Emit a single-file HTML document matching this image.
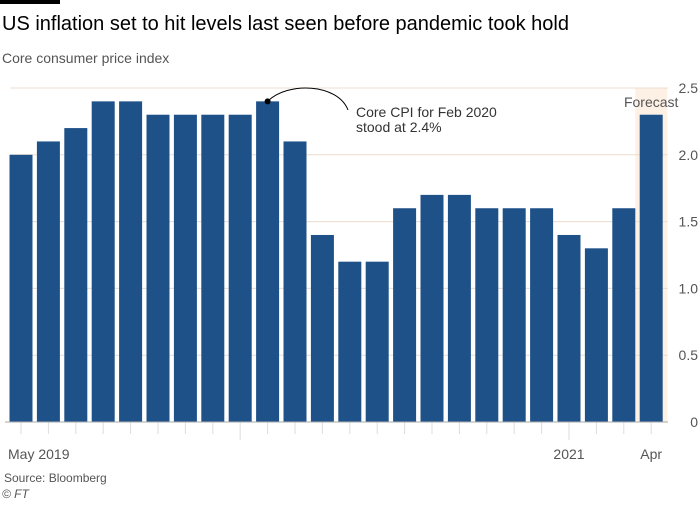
<!DOCTYPE html>
<html><head><meta charset="utf-8"><style>
body{margin:0;background:#fff;font-family:"Liberation Sans",sans-serif;}
svg text{font-family:"Liberation Sans",sans-serif;}
</style></head><body>
<svg width="700" height="500" viewBox="0 0 700 500">
<rect x="0" y="0" width="60" height="4" fill="#000"/>
<text x="2" y="30" font-size="20" fill="#000">US inflation set to hit levels last seen before pandemic took hold</text>
<text x="2" y="63" font-size="14" fill="#555">Core consumer price index</text>
<g id="plot"></g>
<text x="4" y="482" font-size="12" fill="#555">Source: Bloomberg</text>
<text x="2" y="498" font-size="12" fill="#555" font-style="italic">© FT</text>
</svg>
<script>
const months=["May","Jun","Jul","Aug","Sep","Oct","Nov","Dec","Jan","Feb","Mar","Apr","May","Jun","Jul","Aug","Sep","Oct","Nov","Dec","Jan","Feb","Mar","Apr"];
const values=[2.0,2.1,2.2,2.4,2.4,2.3,2.3,2.3,2.3,2.4,2.1,1.4,1.2,1.2,1.6,1.7,1.7,1.6,1.6,1.6,1.4,1.3,1.6,2.3];
const yTicks=[0,0.5,1.0,1.5,2.0,2.5];
const yTickLabels=["0","0.5","1.0","1.5","2.0","2.5"];
const xLabels=[[0,"May 2019"],[20,"2021"],[23,"Apr"]];
const ns="http://www.w3.org/2000/svg";
const g=document.getElementById("plot");
const X0=21,STEP=27.4,BW=23,Y0=422,YMAX=2.5,YTOP=88;
const x=i=>X0+i*STEP;
const y=v=>Y0-(v/YMAX)*(Y0-YTOP);
function mk(t,a){const e=document.createElementNS(ns,t);for(const k in a)e.setAttribute(k,a[k]);g.appendChild(e);return e;}
// forecast shade
const fs=mk("rect",{x:x(23)-16,y:YTOP,width:32,height:Y0-YTOP,fill:"#fdf1e6"});


yTicks.forEach((t,i)=>{
 if(t>0){const l=mk("line",{x1:10,x2:668,y1:y(t),y2:y(t),stroke:"#ecdccf","stroke-width":1});
 
 }
 const tx=mk("text",{x:698,y:y(t)+5,"font-size":14,fill:"#555","text-anchor":"end"});
 tx.textContent=yTickLabels[i];
 
 
});
values.forEach((v,i)=>{
 const r=mk("rect",{x:x(i)-BW/2,y:y(v),width:BW,height:Y0-y(v),fill:"#1f5189"});
 
 
 const long=months[i]==="Jan";
 const tk=mk("line",{x1:x(i),x2:x(i),y1:Y0,y2:Y0+(long?18:12),stroke:"#ddd","stroke-width":1});
 
 
});
const ax=mk("line",{x1:5,x2:668,y1:Y0,y2:Y0,stroke:"#aaa","stroke-width":1});


xLabels.forEach(([i,s])=>{
 const t=mk("text",{x:i===0?8:x(i),y:459,"font-size":14,fill:"#555","text-anchor":i===0?"start":"middle"});
 t.textContent=s;
 
 
});
const fl=mk("text",{x:x(23),y:107,"font-size":14,fill:"#555","text-anchor":"middle"});
fl.textContent="Forecast";


// annotation
const px=x(9),py=y(values[9]);
const p=mk("path",{d:`M${px} ${py} C ${px+20} ${py-20}, ${px+70} ${py-18}, 348 110`,fill:"none",stroke:"#000","stroke-width":1});


const c=mk("circle",{cx:px,cy:py,r:3,fill:"#000"});


const a1=mk("text",{x:356,y:117,"font-size":14,fill:"#333"});a1.textContent="Core CPI for Feb 2020";


const a2=mk("text",{x:356,y:132,"font-size":14,fill:"#333"});a2.textContent="stood at 2.4%";


</script>
</body></html>
